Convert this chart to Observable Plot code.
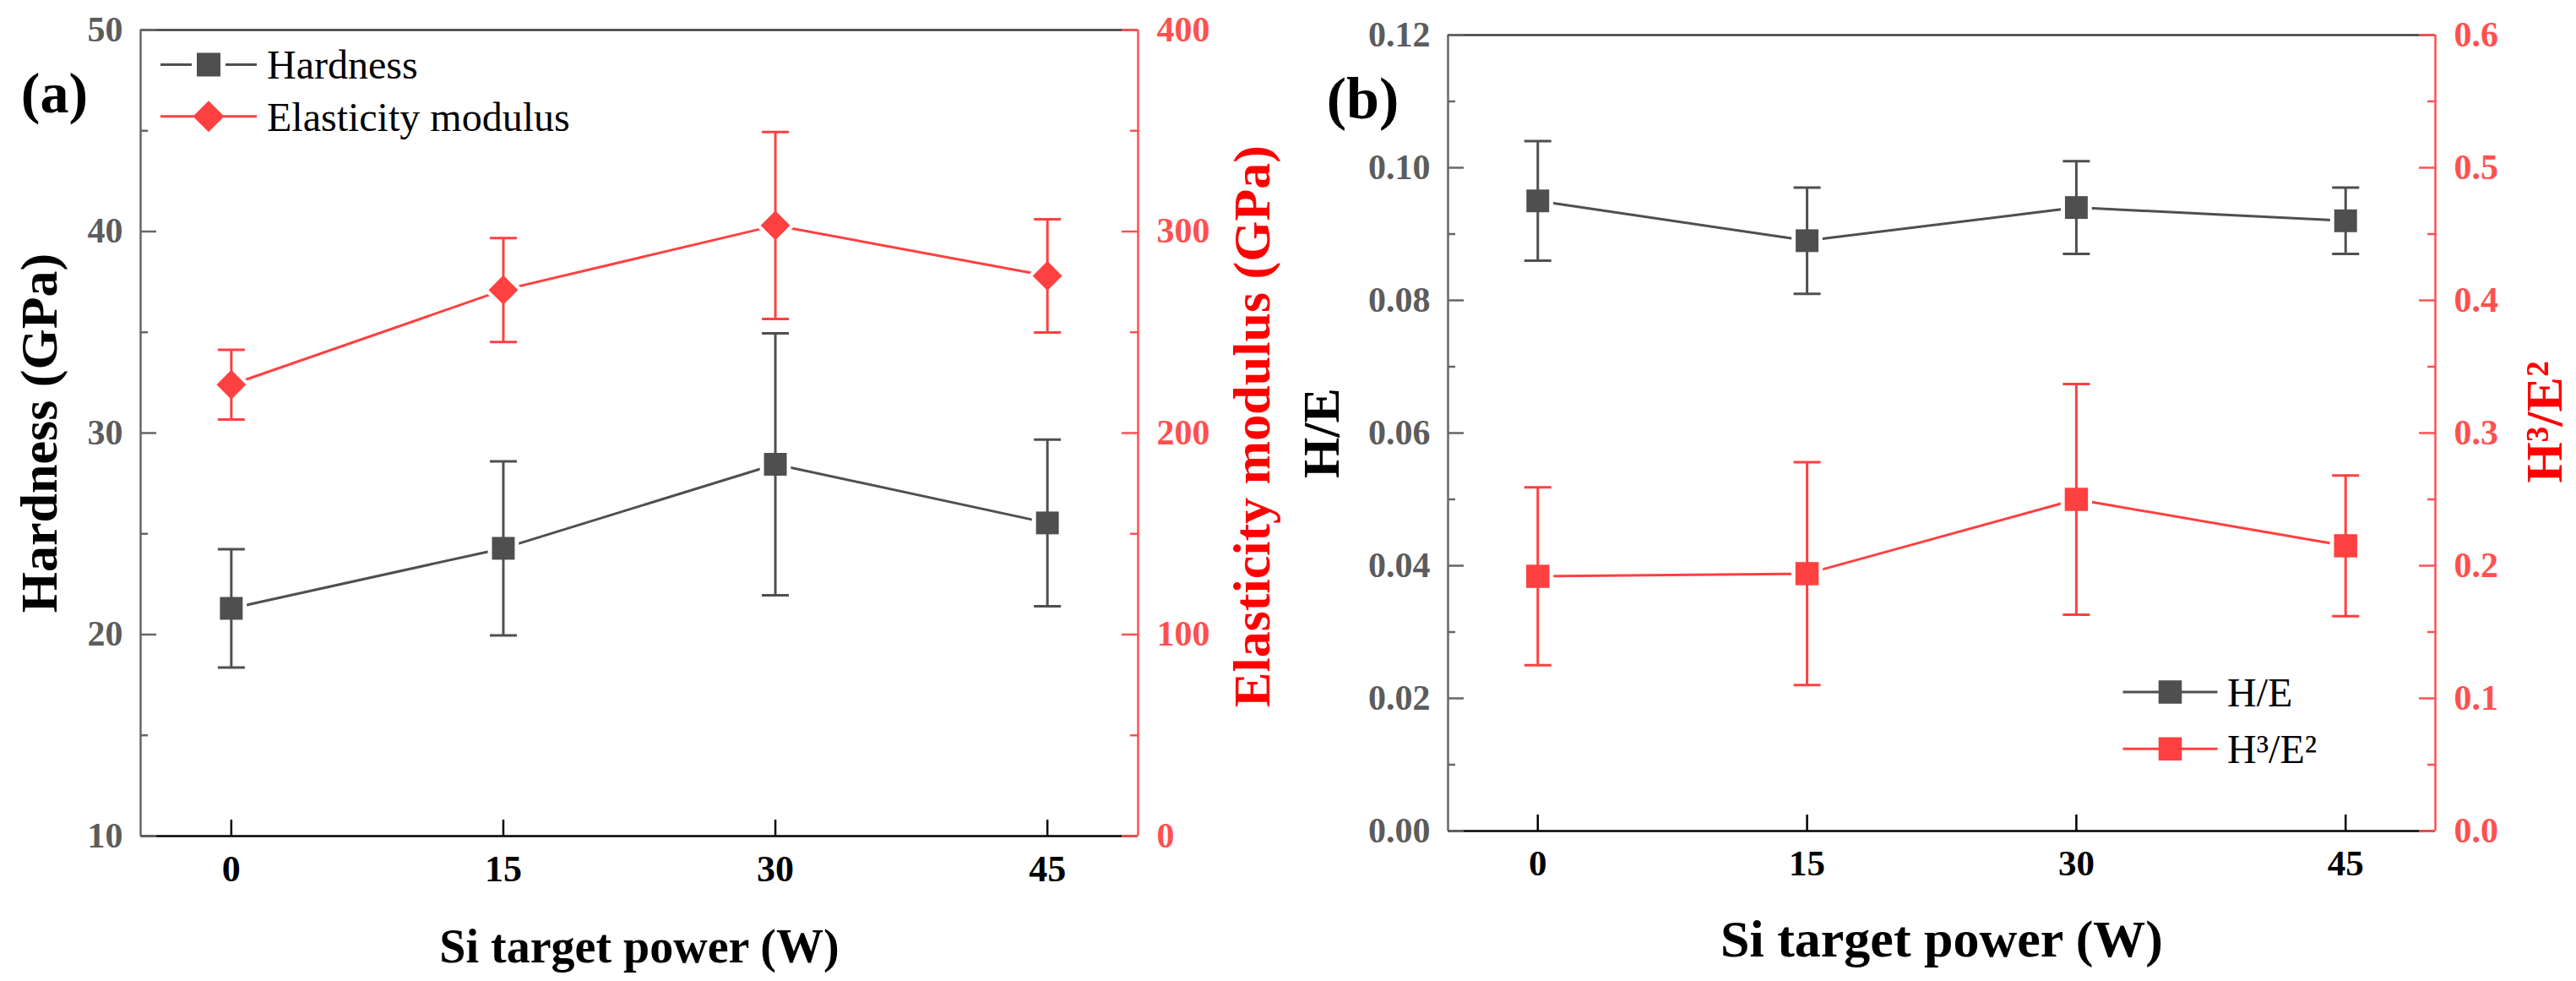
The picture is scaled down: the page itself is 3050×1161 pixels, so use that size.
<!DOCTYPE html>
<html>
<head>
<meta charset="utf-8">
<script src="https://cdn.jsdelivr.net/npm/d3@7"></script>
<script src="https://cdn.jsdelivr.net/npm/@observablehq/plot@0.6"></script>
<style>
html, body { margin: 0; padding: 0; background: #fff; }
#chart { position: relative; width: 3050px; height: 1161px; background: #fff; }
.panel { position: absolute; top: 0; height: 1161px; }
.panel svg { position: absolute; left: 0; top: 0; }
</style>
</head>
<body>
<div id="chart">
  <div class="panel" id="pa" style="left:0;width:1530px"></div>
  <div class="panel" id="pb" style="left:1530px;width:1520px"></div>
</div>
<script>
// ---------- data ----------
const powers = [0, 15, 30, 45];
const hardness = [21.3, 24.28, 28.45, 25.54];
const hardnessErr = [2.93, 4.32, 6.5, 4.14];
const modulus = [224, 271, 303, 278];
const modulusErr = [17.3, 25.8, 46.4, 28.1];
const hOverE = [0.095, 0.089, 0.094, 0.092];
const hOverEErr = [0.009, 0.008, 0.007, 0.005];
const h3e2 = [0.192, 0.194, 0.250, 0.215];
const h3e2Err = [0.067, 0.084, 0.087, 0.053];

// ---------- axes / ticks ----------
const xDomain = [-5, 50];
const xTicks = [0, 15, 30, 45];
const hardnessDomain = [10, 50];
const hardnessTicks = [10, 20, 30, 40, 50];
const hardnessMinor = [15, 25, 35, 45];
const modulusDomain = [0, 400];
const modulusTicks = [0, 100, 200, 300, 400];
const modulusMinor = [50, 150, 250, 350];
const heDomain = [0, 0.12];
const heTicks = [0, 0.02, 0.04, 0.06, 0.08, 0.10, 0.12];
const heMinor = [0.01, 0.03, 0.05, 0.07, 0.09, 0.11];
const h3Domain = [0, 0.6];
const h3Ticks = [0, 0.1, 0.2, 0.3, 0.4, 0.5, 0.6];
const h3Minor = [0.05, 0.15, 0.25, 0.35, 0.45, 0.55];

const labelsA = {y: "Hardness (GPa)", y2: "Elasticity modulus (GPa)", x: "Si target power (W)", tag: "(a)"};
const labelsB = {y: "H/E", y2: "H³/E²", x: "Si target power (W)", tag: "(b)"};
const legendA = ["Hardness", "Elasticity modulus"];
const legendB = ["H/E", "H³/E²"];

// ---------- style ----------
const FONT = '"Liberation Serif", "Times New Roman", Times, serif';
const GRAY = "#4f4f4f";
const RED = "#ff4040";
const AXGRAY = "#5c5c5c";
const REDAX = "#ff5050";
const TITLERED = "#ff0000";

function rows(xs, v, e) {
  return xs.map((x, i) => ({x, v: v[i], lo: v[i] - e[i], hi: v[i] + e[i]}));
}

const capSymbol = {
  draw(ctx, size) {
    const w = Math.sqrt(size / Math.PI);
    ctx.moveTo(-w, 0);
    ctx.lineTo(w, 0);
  }
};

function seriesMarks(data, color, symbol, r) {
  return [
    Plot.line(data, {x: "x", y: "v", stroke: color, strokeWidth: 3}),
    // white halo so the connecting line stops short of each marker
    Plot.dot(data, {x: "x", y: "v", symbol, r: r + 5.5, fill: "#fff", stroke: "none"}),
    Plot.ruleX(data, {x: "x", y1: "lo", y2: "hi", stroke: color, strokeWidth: 3}),
    Plot.dot(data, {x: "x", y: "hi", symbol: capSymbol, r: 16, stroke: color, strokeWidth: 3, fill: "none"}),
    Plot.dot(data, {x: "x", y: "lo", symbol: capSymbol, r: 16, stroke: color, strokeWidth: 3, fill: "none"}),
    Plot.dot(data, {x: "x", y: "v", symbol, r, fill: color, stroke: "none"})
  ];
}

function legendMark(items, ox, oy, gap, lineHalf, textX, fontSize) {
  return (index, scales, values, dims) => {
    const g = d3.create("svg:g");
    items.forEach((it, i) => {
      const cx = dims.marginLeft + ox;
      const cy = dims.marginTop + oy + i * gap;
      g.append("line")
        .attr("x1", cx - lineHalf).attr("x2", cx + lineHalf)
        .attr("y1", cy).attr("y2", cy)
        .attr("stroke", it.color).attr("stroke-width", 3);
      if (it.halo) {
        g.append("path")
          .attr("transform", `translate(${cx},${cy})`)
          .attr("d", d3.symbol(it.symbol, it.halo)())
          .attr("fill", "#fff");
      }
      g.append("path")
        .attr("transform", `translate(${cx},${cy})`)
        .attr("d", d3.symbol(it.symbol, it.size)())
        .attr("fill", it.color);
      g.append("text")
        .attr("x", cx + textX).attr("y", cy).attr("dy", "0.35em")
        .attr("text-anchor", "start")
        .attr("font-size", fontSize).attr("fill", "#000")
        .attr("font-family", FONT)
        .text(it.label);
    });
    return g.node();
  };
}

function panel(cfg) {
  const W = cfg.width, H = 1161;
  const m = cfg.margins;
  const fw = W - m.left - m.right;
  const fh = H - m.top - m.bottom;
  const common = {
    width: W, height: H,
    marginLeft: m.left, marginRight: m.right, marginTop: m.top, marginBottom: m.bottom,
    style: {fontFamily: FONT, background: "transparent", overflow: "visible"}
  };

  const primary = Plot.plot({
    ...common,
    x: {domain: xDomain},
    y: {domain: cfg.yDomain},
    marks: [
      Plot.ruleY([cfg.yDomain[1]], {stroke: "#3a3a3a", strokeWidth: 2.5}),
      Plot.ruleX([xDomain[0]], {stroke: "#666", strokeWidth: 2.5}),
      Plot.ruleY([cfg.yDomain[0]], {stroke: "#000", strokeWidth: 2.5}),
      Plot.tickY(cfg.yTicks, {y: d => d, stroke: "#666", strokeWidth: 2.5, insetRight: fw - 19}),
      Plot.tickY(cfg.yMinor, {y: d => d, stroke: "#666", strokeWidth: 2.5, insetRight: fw - 9}),
      Plot.tickX(xTicks, {x: d => d, stroke: "#000", strokeWidth: 2.5, insetTop: fh - 19}),
      Plot.axisY(cfg.yTicks, {anchor: "left", tickSize: 0, tickPadding: 21, fontSize: 42,
        fontWeight: "bold", fill: AXGRAY, label: null, tickFormat: cfg.yFormat}),
      Plot.axisX(xTicks, {tickSize: 0, tickPadding: 22, fontSize: cfg.xTickSize, fontWeight: "bold",
        fill: "#000", label: null}),
      ...seriesMarks(cfg.primaryData, GRAY, "square", 15.2),
      Plot.text([cfg.labels.y], {text: d => d, frameAnchor: "left", rotate: -90, dx: cfg.yTitleDx,
        textAnchor: "middle", lineAnchor: "bottom", fontSize: 62, fontWeight: "bold", fill: "#000"}),
      Plot.text([cfg.labels.x], {text: d => d, frameAnchor: "bottom", dy: cfg.xTitleDy,
        textAnchor: "middle", lineAnchor: "bottom", fontSize: cfg.xTitleSize, fontWeight: "bold", fill: "#000"}),
      Plot.text([cfg.labels.tag], {text: d => d, frameAnchor: "top-left", dx: cfg.tagDx, dy: cfg.tagDy,
        textAnchor: "middle", lineAnchor: "bottom", fontSize: cfg.tagSize, fontWeight: "bold", fill: "#000"}),
      legendMark(cfg.legendItems, ...cfg.legendPos)
    ]
  });

  const secondary = Plot.plot({
    ...common,
    x: {domain: xDomain, axis: null},
    y: {domain: cfg.y2Domain, axis: null},
    marks: [
      Plot.ruleX([xDomain[1]], {stroke: REDAX, strokeWidth: 2.5}),
      Plot.tickY(cfg.y2Ticks, {y: d => d, stroke: REDAX, strokeWidth: 2.5, insetLeft: fw - 19}),
      Plot.tickY(cfg.y2Minor, {y: d => d, stroke: REDAX, strokeWidth: 2.5, insetLeft: fw - 9}),
      Plot.axisY(cfg.y2Ticks, {anchor: "right", tickSize: 0, tickPadding: 22, fontSize: 42,
        fontWeight: "bold", fill: REDAX, label: null, tickFormat: cfg.y2Format}),
      ...seriesMarks(cfg.secondaryData, RED, cfg.secondarySymbol, cfg.secondaryR),
      Plot.text([cfg.labels.y2], {text: d => d, frameAnchor: "right", rotate: -90, dx: cfg.y2TitleDx, dy: cfg.y2TitleDy,
        textAnchor: "middle", lineAnchor: "bottom", fontSize: 62, fontWeight: "bold", fill: TITLERED})
    ]
  });

  const host = document.getElementById(cfg.id);
  host.appendChild(primary);
  host.appendChild(secondary);
}

panel({
  id: "pa", width: 1530,
  margins: {left: 166, right: 183, top: 35, bottom: 172},
  yDomain: hardnessDomain, yTicks: hardnessTicks, yMinor: hardnessMinor, yFormat: d3.format("d"),
  y2Domain: modulusDomain, y2Ticks: modulusTicks, y2Minor: modulusMinor, y2Format: d3.format("d"),
  xTickSize: 44,
  primaryData: rows(powers, hardness, hardnessErr),
  secondaryData: rows(powers, modulus, modulusErr),
  secondarySymbol: "diamond2", secondaryR: 15.7,
  labels: labelsA,
  yTitleDx: -100, y2TitleDx: 155, y2TitleDy: -8,
  xTitleDy: 149, xTitleSize: 56,
  tagDx: -102, tagDy: 97, tagSize: 68,
  legendItems: [
    {label: legendA[0], color: GRAY, symbol: d3.symbolSquare, size: 784, halo: 1600},
    {label: legendA[1], color: RED, symbol: d3.symbolDiamond2, size: 870}
  ],
  legendPos: [81, 41.5, 61.3, 57, 69, 48]
});

panel({
  id: "pb", width: 1520,
  margins: {left: 184, right: 167, top: 41, bottom: 178},
  yDomain: heDomain, yTicks: heTicks, yMinor: heMinor, yFormat: d3.format(".2f"),
  y2Domain: h3Domain, y2Ticks: h3Ticks, y2Minor: h3Minor, y2Format: d3.format(".1f"),
  xTickSize: 43,
  primaryData: rows(powers, hOverE, hOverEErr),
  secondaryData: rows(powers, h3e2, h3e2Err),
  secondarySymbol: "square", secondaryR: 15.5,
  labels: labelsB,
  yTitleDx: -129.5, y2TitleDx: 149, y2TitleDy: -13,
  xTitleDy: 148, xTitleSize: 62,
  tagDx: -101, tagDy: 98, tagSize: 70,
  legendItems: [
    {label: legendB[0], color: GRAY, symbol: d3.symbolSquare, size: 760},
    {label: legendB[1], color: RED, symbol: d3.symbolSquare, size: 760}
  ],
  legendPos: [855.5, 778, 67.3, 56, 67.5, 48]
});
</script>
</body>
</html>
